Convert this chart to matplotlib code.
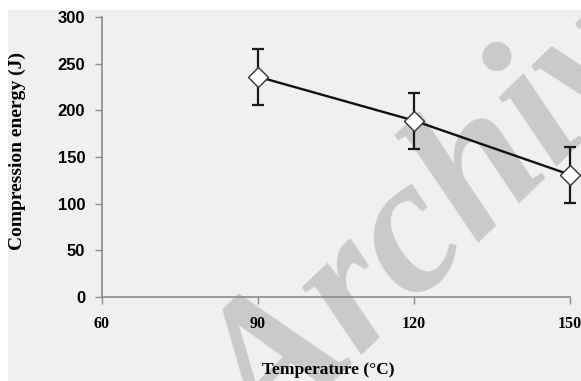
import numpy as np
import matplotlib.pyplot as plt
from matplotlib.patches import Rectangle

# data
temperature = [90, 120, 150]
energy = [236, 189, 131]
energy_err = [30, 30, 30]

x_ticks = [60, 90, 120, 150]
y_ticks = [0, 50, 100, 150, 200, 250, 300]

W, H = 581, 381
fig = plt.figure(figsize=(W / 100, H / 100), dpi=100)
fig.patch.set_facecolor('white')

# grey panel behind the plot
fig.patches.append(Rectangle((8 / W, 0), 1, (H - 10) / H, transform=fig.transFigure,
                             facecolor='#f0f0f0', edgecolor='none', zorder=-5))

# watermark
wm = fig.text(269 / W, (H - 455) / H, 'Archive', fontsize=140, family='Liberation Serif',
              style='italic', weight='bold', color='#cacaca', rotation=44,
              rotation_mode='anchor', ha='left', va='baseline', zorder=-2)
wm.set_in_layout(False)

ax = fig.add_axes([102 / W, (H - 297) / H, (570 - 102) / W, (297 - 17) / H])
ax.patch.set_alpha(0)

ax.errorbar(temperature, energy, yerr=energy_err, fmt='none', ecolor='#1a1a1a',
            elinewidth=1.6, capsize=4.5, capthick=1.6, zorder=2, clip_on=False)
ax.plot(temperature, energy, color='#111111', lw=1.7, marker='D', ms=10.5,
        mfc='white', mec='#333333', mew=1.0, zorder=3, clip_on=False)

ax.set_xlim(60, 150)
ax.set_ylim(0, 300)
ax.set_xticks(x_ticks)
ax.set_yticks(y_ticks)

for s in ['top', 'right']:
    ax.spines[s].set_visible(False)
for s in ['left', 'bottom']:
    ax.spines[s].set_color('#8c8c8c')
    ax.spines[s].set_linewidth(1.2)

ax.tick_params(axis='both', direction='out', length=5, width=1, color='#8c8c8c')
ax.tick_params(axis='x', pad=9)
ax.tick_params(axis='y', pad=7)

for lab in ax.get_yticklabels():
    lab.set_family('Liberation Sans')
    lab.set_fontweight('bold')
    lab.set_fontsize(12)
for lab in ax.get_xticklabels():
    lab.set_family('Liberation Serif')
    lab.set_fontweight('bold')
    lab.set_fontsize(11.5)

fig.text(17 / W, (H - 151) / H, 'Compression energy (J)', rotation=90, ha='center',
         va='center', family='Liberation Serif', weight='bold', fontsize=14)
fig.text(328 / W, (H - 370) / H, 'Temperature (°C)', ha='center', va='center',
         family='Liberation Serif', weight='bold', fontsize=12.5)

fig.savefig('out.png', dpi=100)
